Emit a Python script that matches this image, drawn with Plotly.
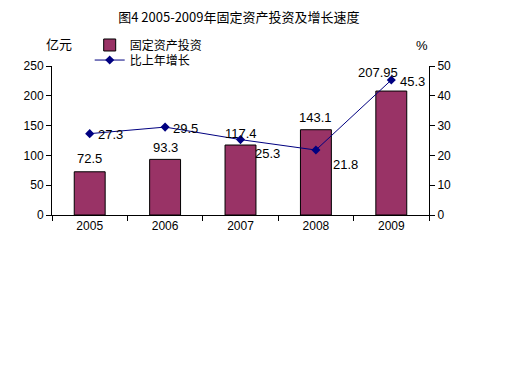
import plotly.graph_objects as go

years = [2005, 2006, 2007, 2008, 2009]
year_labels = ["2005", "2006", "2007", "2008", "2009"]
investment = [72.5, 93.3, 117.4, 143.1, 207.95]
growth = [27.3, 29.5, 25.3, 21.8, 45.3]
bar_labels = ["72.5", "93.3", "117.4", "143.1", "207.95"]
growth_labels = ["27.3", "29.5", "25.3", "21.8", "45.3"]

FONT = "Liberation Sans, Noto Sans CJK SC, sans-serif"
CJK = "Noto Sans CJK SC, sans-serif"

fig = go.Figure()
fig.add_trace(go.Bar(
    x=years, y=investment, name="固定资产投资",
    marker=dict(color="#993366", line=dict(color="#000000", width=1)),
    width=0.41, yaxis="y", legend="legend",
))
fig.add_trace(go.Scatter(
    x=years, y=growth, name="比上年增长", yaxis="y2",
    mode="lines+markers",
    line=dict(color="#000080", width=1),
    marker=dict(symbol="diamond", size=7, color="#000080"),
    legend="legend2",
))

annotations = []
bar_shift = [(0, 13), (0, 12), (0, 12), (0, 12), (-13, 19)]
for yr, v, t, (xs, ys) in zip(years, investment, bar_labels, bar_shift):
    annotations.append(dict(x=yr, y=v, xref="x", yref="y", text=t, showarrow=False,
                            xshift=xs, yshift=ys,
                            font=dict(size=13, color="#000000", family=FONT)))
g_shift = [(21, -1), (20, -1), (27, -14), (30, -14), (21, -1)]
for yr, v, t, (xs, ys) in zip(years, growth, growth_labels, g_shift):
    annotations.append(dict(x=yr, y=v, xref="x", yref="y2", text=t, showarrow=False,
                            xshift=xs, yshift=ys,
                            font=dict(size=13, color="#000000", family=FONT)))
annotations.append(dict(x=0.019, y=1.149, xref="paper", yref="paper", text="亿元",
                        xanchor="center", yanchor="middle",
                        showarrow=False, font=dict(size=13, family=CJK, color="#000000")))
annotations.append(dict(x=0.981, y=1.135, xref="paper", yref="paper", text="%",
                        xanchor="center", yanchor="middle",
                        showarrow=False, font=dict(size=13, family=FONT, color="#000000")))

fig.update_layout(
    width=504, height=376,
    margin=dict(l=44, r=83, t=58, b=169, autoexpand=False),
    paper_bgcolor="white", plot_bgcolor="white",
    title=dict(text="图4 2005-2009年固定资产投资及增长速度", x=0.458, xanchor="center",
               y=0.974, yanchor="middle", font=dict(size=13, family=CJK, color="#000000")),
    font=dict(family=FONT, size=12, color="#000000"),
    xaxis=dict(range=[2004.5, 2009.5], tickvals=years, ticktext=year_labels,
               showline=True, linecolor="#000000", linewidth=1, ticks="",
               minor=dict(tick0=2004.5, dtick=1, ticks="outside", ticklen=5,
                          tickcolor="#000000", showgrid=False),
               tickfont=dict(size=12), showgrid=False, zeroline=False),
    yaxis=dict(range=[0, 250], dtick=50, showline=True, linecolor="#000000", linewidth=1,
               ticks="outside", ticklen=5, tickcolor="#000000", showgrid=False,
               zeroline=False, tickfont=dict(size=12)),
    yaxis2=dict(range=[0, 50], dtick=10, overlaying="y", side="right", showline=True,
                linecolor="#000000", linewidth=1, ticks="outside", ticklen=5,
                tickcolor="#000000", showgrid=False, zeroline=False, tickfont=dict(size=12)),
    legend=dict(x=0.10, y=1.141, xanchor="left", yanchor="middle", bgcolor="rgba(0,0,0,0)",
                font=dict(size=12, family=CJK)),
    legend2=dict(x=0.10, y=1.040, xanchor="left", yanchor="middle", bgcolor="rgba(0,0,0,0)",
                 font=dict(size=12, family=CJK)),
    annotations=annotations,
    showlegend=True,
)

fig.write_html("out.html")
